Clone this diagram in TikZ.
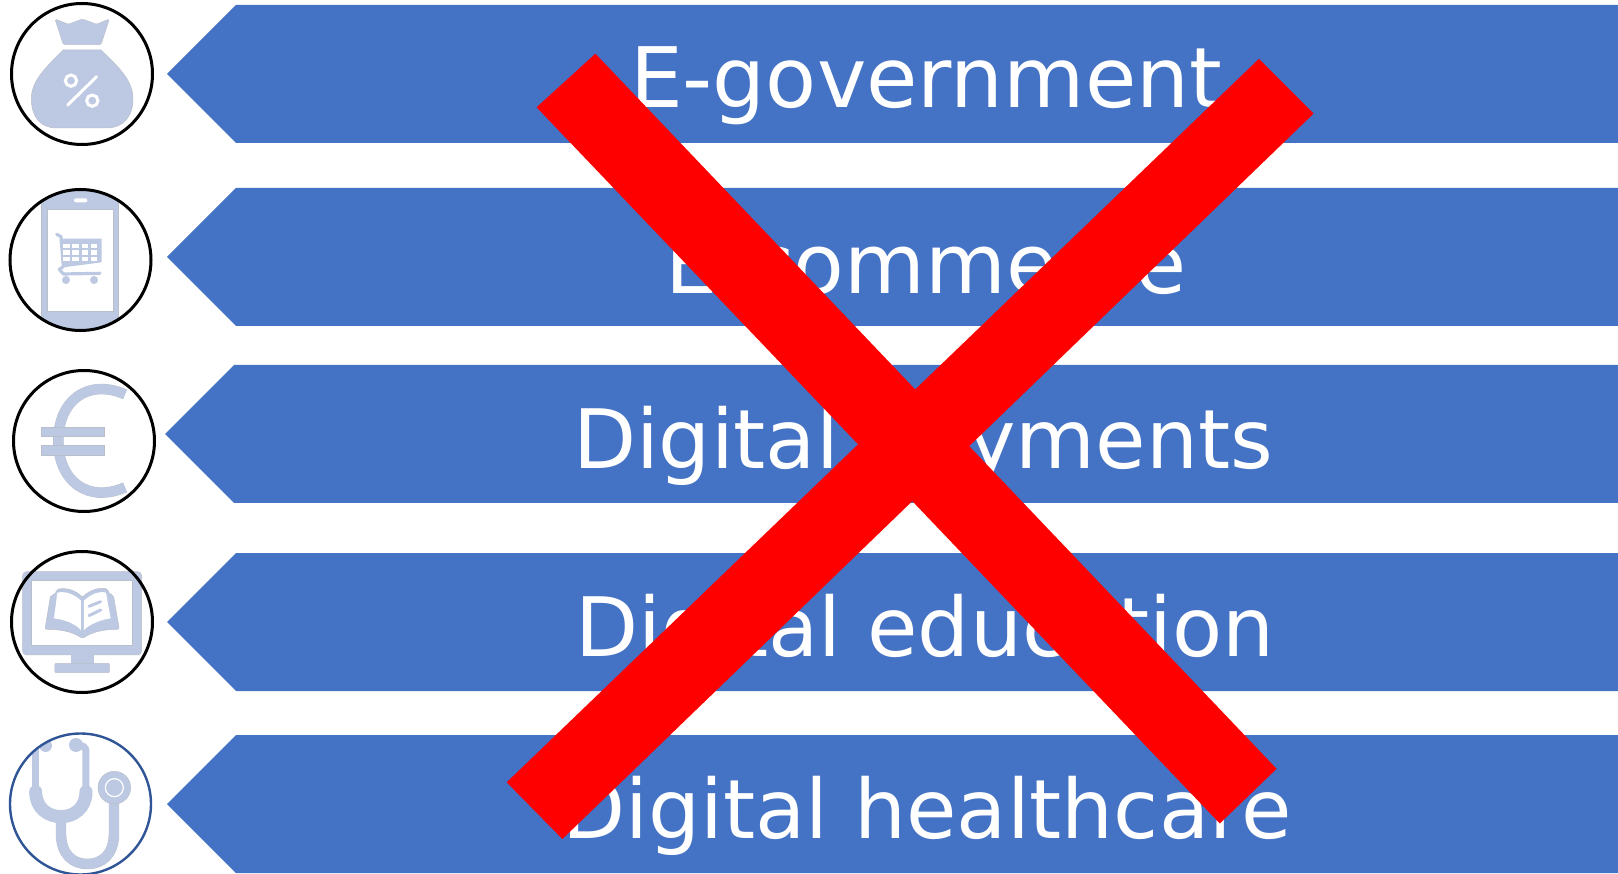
\documentclass[tikz,border=0pt]{standalone}
\usepackage{fontspec}
\setmainfont{DejaVu Sans}
\definecolor{bannerblue}{HTML}{4472C4}
\definecolor{iconblue}{HTML}{BDC9E3}
\definecolor{iconedge}{HTML}{B9BECB}
\definecolor{ringblue}{HTML}{2F5597}
\definecolor{crossred}{HTML}{FF0000}
\tikzset{
  bannertext/.style={anchor=base,text=white,inner sep=0pt,font=\fontsize{82}{82}\selectfont},
  ring/.style={circle,draw=black,line width=3pt,minimum size=141pt,inner sep=0pt},
  icon/.style={fill=iconblue,draw=iconedge,line width=0.5pt},
  hole/.style={fill=white,draw=iconedge,line width=0.5pt},
  zoomed/.style={x=0.33333pt,y=-0.33333pt},
}
\newcommand{\banner}[2]{\fill[bannerblue] (1640,#2-69) -- (#1+69,#2-69) -- (#1,#2) -- (#1+69,#2+69) -- (1640,#2+69) -- cycle;}
\begin{document}
\begin{tikzpicture}[x=1pt,y=-1pt]
\useasboundingbox (0,0) rectangle (1618,874);
\fill[white] (0,0) rectangle (1618,874);
% banners
\banner{167}{74}
\banner{167}{257}
\banner{165}{434}
\banner{167}{622}
\banner{167}{804}
\node[bannertext,font=\fontsize{83.5}{84}\selectfont] (t1) at (926,107.5) {E-government};
\node[bannertext,font=\fontsize{83}{84}\selectfont] (t2) at (926,293.5) {E-commerce};
\node[bannertext] (t3) at (923,468.5) {Digital payments};
\node[bannertext] (t4) at (925,656.5) {Digital education};
\node[bannertext] (t5) at (927,838.5) {Digital healthcare};
% money bag
\begin{scope}[zoomed]
\fill[icon,rounded corners=1.5pt] (165,57) -- (205,73) -- (247,57) -- (290,73) -- (328,57) -- (303,134) -- (190,134) -- cycle;
\fill[icon] (190,150) -- (303,150) .. controls (350,195) and (399,240) .. (399,295) .. controls (399,350) and (370,384) .. (320,384) -- (170,384) .. controls (120,384) and (94,350) .. (94,295) .. controls (94,240) and (145,195) .. (190,150) -- cycle;
\draw[white,line width=3pt,line cap=round] (290,230) -- (203,315);
\draw[white,line width=3pt] (213,242) circle (17);
\draw[white,line width=3pt] (277,302) circle (17);
\end{scope}
% phone and cart
\begin{scope}
\clip (80.5,260) circle (71);
\begin{scope}[zoomed]
\fill[icon] (125,570) rectangle (355,1000);
\fill[hole] (143,627) rectangle (340,935);
\fill[white,rounded corners=2pt] (222,595) rectangle (262,607);
\draw[iconblue,line width=3.2pt,line cap=round,line join=round] (170,703) -- (183,710) -- (190,800) -- (178,808) -- (190,822) -- (300,820);
\fill[iconblue] (186,716) -- (305,716) -- (305,787) -- (190,802) -- cycle;
\foreach \cx in {190,217,245,272}{
  \foreach \cy in {731,751,771}{
    \fill[white] (\cx,\cy) rectangle +(20,13);
  }
}
\fill[iconblue] (198,840) circle (12);
\fill[iconblue] (282,840) circle (12);
\end{scope}
\end{scope}
% euro
\begin{scope}[zoomed,yshift=-350pt]
\draw[iconedge,line width=10.4pt] (375,133) .. controls (265,85) and (175,150) .. (175,272) .. controls (175,395) and (265,460) .. (375,412);
\draw[iconblue,line width=9.8pt] (375,133) .. controls (265,85) and (175,150) .. (175,272) .. controls (175,395) and (265,460) .. (375,412);
\fill[icon] (123,232) rectangle (312,260);
\fill[icon] (123,287) rectangle (312,315);
\end{scope}
% monitor and book
\begin{scope}[zoomed,yshift=-350pt]
\fill[icon,rounded corners=4pt] (68,665) rectangle (425,915);
\fill[hole] (95,692) rectangle (397,887);
\fill[iconblue] (212,912) rectangle (282,942);
\fill[icon,rounded corners=1pt] (165,940) rectangle (328,968);
\fill[icon,rounded corners=2pt] (152,735) -- (135,838) .. controls (195,838) and (225,850) .. (247,866) .. controls (270,850) and (300,838) .. (358,838) -- (340,735) -- (330,735) -- (322,716) .. controls (290,712) and (265,725) .. (247,742) .. controls (230,725) and (205,712) .. (170,718) -- (165,735) -- cycle;
\fill[white] (172,728) .. controls (200,722) and (225,735) .. (243,752) -- (243,840) .. controls (225,822) and (200,810) .. (162,805) -- cycle;
\fill[white] (252,752) .. controls (270,735) and (295,722) .. (318,728) -- (332,805) .. controls (300,810) and (270,822) .. (252,840) -- cycle;
\draw[iconblue,line width=3pt,line cap=round] (267,769) -- (302,755);
\draw[iconblue,line width=3pt,line cap=round] (267,797) -- (302,780);
\end{scope}
% stethoscope
\begin{scope}
\clip (80.5,804) circle (71);
\begin{scope}[zoomed,yshift=-700pt]
\draw[iconblue,line width=7pt] (107,130) -- (107,275);
\draw[iconblue,line width=7pt] (228,135) .. controls (250,135) and (258,142) .. (258,155) -- (258,275);
\fill[iconblue] (137,137) circle (19);
\fill[iconblue] (228,135) circle (21);
\draw[iconedge,line width=10.4pt] (183,352) -- (183,400) .. controls (183,465) and (220,492) .. (262,492) .. controls (305,492) and (342,465) .. (342,400) -- (342,280);
\draw[iconblue,line width=9.8pt] (183,352) -- (183,400) .. controls (183,465) and (220,492) .. (262,492) .. controls (305,492) and (342,465) .. (342,400) -- (342,280);
\draw[iconblue,line width=13pt,line cap=round] (107,275) .. controls (107,325) and (145,350) .. (183,350) .. controls (221,350) and (258,325) .. (258,275);
\fill[icon] (343,263) circle (49);
\draw[white,line width=1.2pt,fill=iconblue] (343,263) circle (27);
\end{scope}
\end{scope}
% rings
\node[ring] (c1) at (82,74) {};
\node[ring] (c2) at (80.5,260) {};
\node[ring] (c3) at (84,441) {};
\node[ring] (c4) at (82,622) {};
\node[ring,draw=ringblue,line width=2.4pt] (c5) at (80.5,804) {};
% red cross
\fill[crossred] (595.4,53.7) -- (536.6,107.3) -- (1219.8,823.5) -- (1276.6,768.8) -- cycle;
\fill[crossred] (1259,58.8) -- (1313.7,113.5) -- (562.4,839) -- (506.7,782.3) -- cycle;
\end{tikzpicture}
\end{document}
